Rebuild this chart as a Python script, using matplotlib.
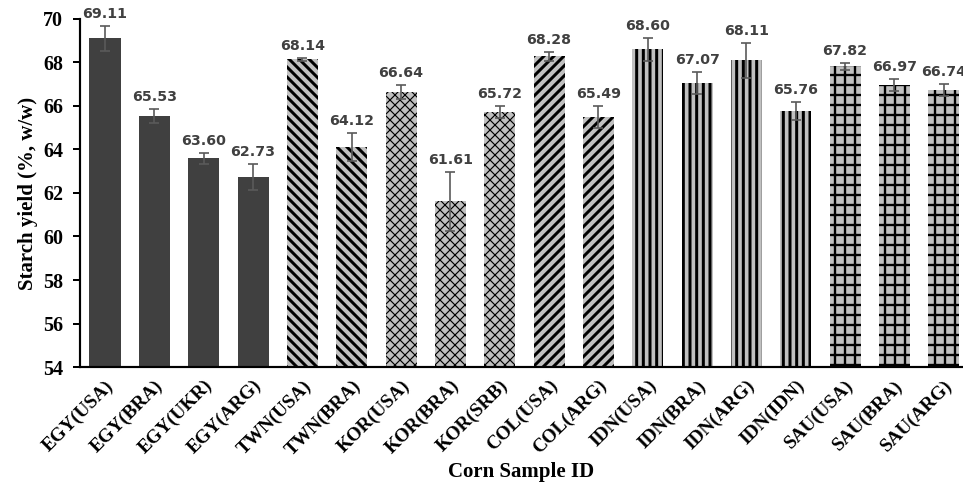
import numpy as np
import matplotlib
matplotlib.use("Agg")
import matplotlib.pyplot as plt

# sample ids, starch yield and std dev
samples = ["EGY(USA)", "EGY(BRA)", "EGY(UKR)", "EGY(ARG)",
           "TWN(USA)", "TWN(BRA)",
           "KOR(USA)", "KOR(BRA)", "KOR(SRB)",
           "COL(USA)", "COL(ARG)",
           "IDN(USA)", "IDN(BRA)", "IDN(ARG)", "IDN(IDN)",
           "SAU(USA)", "SAU(BRA)", "SAU(ARG)"]
yields = [69.11, 65.53, 63.60, 62.73,
          68.14, 64.12,
          66.64, 61.61, 65.72,
          68.28, 65.49,
          68.60, 67.07, 68.11, 65.76,
          67.82, 66.97, 66.74]
errors = [0.57, 0.32, 0.25, 0.60,
          0.05, 0.66,
          0.32, 1.35, 0.28,
          0.20, 0.49,
          0.54, 0.50, 0.80, 0.41,
          0.17, 0.29, 0.28]

# look of each country group: face colour, hatch, hatch line width
group_style = {
    "EGY": ("#404040", "", 0.0),
    "TWN": ("#c0c0c0", "\\\\\\\\", 1.8),
    "KOR": ("#c0c0c0", "xxxx", 0.7),
    "COL": ("#c0c0c0", "////", 1.8),
    "IDN": ("#c0c0c0", "|||", 1.8),
    "SAU": ("#c0c0c0", "++", 1.4),
}

plt.rcParams["hatch.linewidth"] = 1.6

fig = plt.figure(figsize=(963 / 120, 487 / 120), dpi=120)
ax = fig.add_axes([0.0831, 0.2464, 0.9169, 0.7146])

x = np.arange(len(samples))
bars = ax.bar(x, yields, width=0.63, linewidth=0, edgecolor="black")
for b, name in zip(bars, samples):
    face, hatch, hlw = group_style[name[:3]]
    b.set_facecolor(face)
    if hatch:
        b.set_hatch(hatch)
        if hasattr(b, "set_hatch_linewidth"):
            b.set_hatch_linewidth(hlw)

ax.errorbar(x, yields, yerr=errors, fmt="none", ecolor="#5a5a5a",
            elinewidth=1.0, capsize=3, capthick=1.0)

for xi, v, e in zip(x, yields, errors):
    ax.annotate(f"{v:.2f}", xy=(xi, v + e), xytext=(0, 3),
                textcoords="offset points", ha="center", va="bottom",
                fontsize=8.5, fontweight="bold", color="#404040",
                family="DejaVu Sans", annotation_clip=False)

ax.set_ylim(54, 70)
ax.set_xlim(-0.507, 17.39)
ax.set_yticks(np.arange(54, 71, 2))
ax.set_xticks(x)
ax.set_xticklabels(samples, rotation=45, ha="right", rotation_mode="anchor",
                   fontsize=11.5, fontweight="bold", family="Liberation Serif")
for lab in ax.get_yticklabels():
    lab.set_fontsize(12)
    lab.set_fontweight("bold")
    lab.set_family("Liberation Serif")

ax.tick_params(axis="x", length=0, pad=6)
ax.tick_params(axis="y", length=4.2, width=1.2, direction="out", pad=6)
for s in ["top", "right"]:
    ax.spines[s].set_visible(False)
for s in ["left", "bottom"]:
    ax.spines[s].set_linewidth(1.3)

ax.set_ylabel("Starch yield (%, w/w)", fontsize=12.5, fontweight="bold",
              family="Liberation Serif", labelpad=3)
ax.set_xlabel("Corn Sample ID", fontsize=12.5, fontweight="bold",
              family="Liberation Serif", labelpad=2)

fig.savefig("out.png", dpi=120)
